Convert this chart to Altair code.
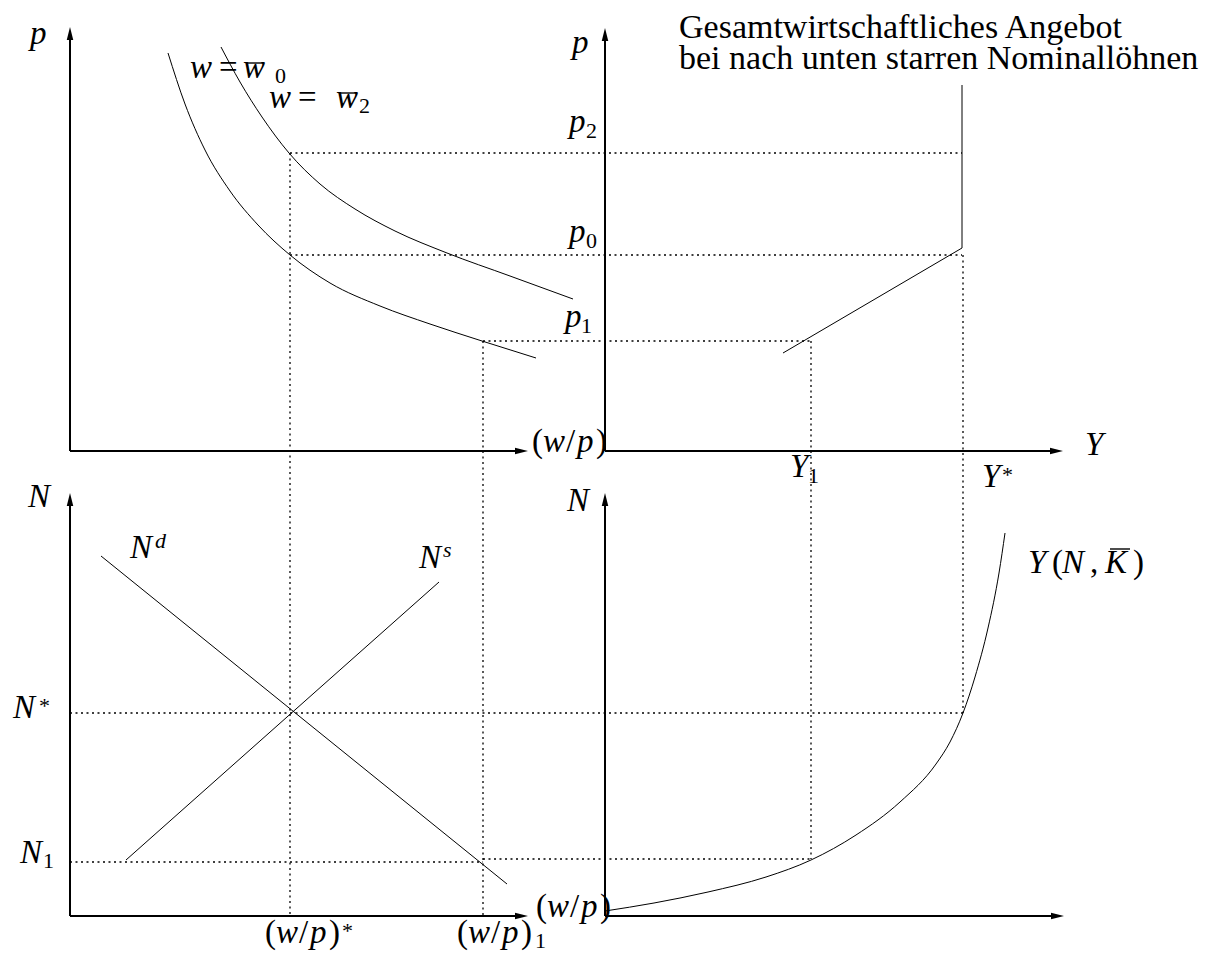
import altair as alt
import pandas as pd

# ---------- geometry (image pixel coordinates) ----------
# axes: origin -> arrow tip
axis_ids = ["tl_y", "tl_x", "tr_y", "tr_x", "bl_y", "bl_x", "br_y", "br_x"]
axis_x0 = [70, 70, 605, 605, 70, 70, 605, 605]
axis_y0 = [451, 451, 451, 451, 916, 916, 916, 916]
axis_x1 = [70, 528, 605, 1063, 70, 528, 605, 1064]
axis_y1 = [27, 451, 28, 451, 493, 916, 493, 916]

# price-real wage curves (top left)
w0_x = [168, 185, 205, 230, 258, 290, 330, 380, 430, 482, 536]
w0_y = [53, 104, 150, 191, 225, 255, 283, 306, 324, 341, 358]
w2_x = [221, 240, 262, 289, 320, 355, 395, 447, 510, 573]
w2_y = [47, 82, 117, 153, 184, 209, 231, 253, 276, 299]

# production function (bottom right)
prod_x = [605, 654, 708, 766, 811, 856, 900, 936, 950, 963, 975, 988, 999, 1005]
prod_y = [911, 903, 892, 877, 860, 835, 802, 764, 742, 713, 677, 628, 573, 533]

# straight lines
as_x = [783, 962, 962]
as_y = [353, 248, 85]
nd_x = [101, 507]
nd_y = [556, 884]
ns_x = [126, 439]
ns_y = [860, 582]

# dotted guide lines: x0, y0, x1, y1
dot_x0 = [290, 290, 483, 290, 483, 811, 963, 70, 70, 483]
dot_y0 = [153, 255, 341, 153, 341, 341, 255, 713, 862, 859]
dot_x1 = [962, 962, 811, 290, 483, 811, 963, 963, 483, 811]
dot_y1 = [153, 255, 341, 916, 916, 859, 713, 713, 862, 859]

# text pieces: text, left x, baseline y, font size, style
lab_text = ["p", "w", "=", "w", "0", "w", "=", "w", "2",
            "p", "p", "2", "p", "0", "p", "1", "Y", "Y", "*", "Y", "1",
            "Gesamtwirtschaftliches Angebot", "bei nach unten starren Nominallöhnen",
            "N", "N", "d", "N", "s", "N", "*", "N", "1",
            "*", "1",
            "N", "Y", "(", "N", ",", "K", ")"]
lab_x = [30, 190, 219, 243, 275, 269, 298, 336, 359,
         572, 569, 586, 569, 586, 565, 581, 1085, 982, 1002, 790, 808,
         679, 679,
         28, 130, 155, 419, 443, 13, 39, 20, 43,
         342, 535,
         567, 1028, 1052, 1062, 1090, 1105, 1133]
lab_y = [44, 78, 78, 78, 83, 108, 108, 108, 113,
         53, 132, 138, 242, 248, 327, 333, 455, 487, 482, 477, 483,
         38, 69,
         507, 558, 548, 568, 557, 718, 713, 863, 868,
         938, 948,
         511, 573, 573, 573, 573, 573, 573]
lab_size = [33, 33, 33, 33, 22, 33, 33, 33, 22,
            33, 33, 22, 33, 22, 33, 22, 33, 33, 22, 33, 22,
            34, 34,
            33, 33, 22, 33, 22, 33, 22, 33, 22,
            22, 22,
            33, 33, 33, 33, 33, 33, 33]
lab_style = ["i", "i", "n", "i", "n", "i", "n", "i", "n",
             "i", "i", "n", "i", "n", "i", "n", "i", "i", "n", "i", "n",
             "n", "n",
             "i", "i", "i", "i", "i", "i", "n", "i", "n",
             "n", "n",
             "i", "i", "n", "i", "n", "i", "n"]

# "(w/p)" labels: left x, baseline
wp_x = [532, 265, 457, 536]
wp_y = [452, 943, 943, 917]
wp_pieces = [("(", 0, "n"), ("w", 11, "i"), ("/", 34, "n"), ("p", 45, "i"), (")", 64, "n")]

# bars (macrons) over w and K: x0, x1, y
bar_x0 = [247, 340, 1110]
bar_x1 = [264, 357, 1130]
bar_y = [63, 93, 549]

# ---------- build tables ----------
def poly(rows, pid, xs, ys):
    for k, (a, b) in enumerate(zip(xs, ys)):
        rows.append({"id": pid, "ord": k, "x": a, "y": b})

ARW = 6.5
axis_rows, arrow_rows = [], []
for i, pid in enumerate(axis_ids):
    x0, y0, x1, y1 = axis_x0[i], axis_y0[i], axis_x1[i], axis_y1[i]
    if x0 == x1:  # vertical, pointing up
        poly(axis_rows, pid, [x0, x1], [y0, y1 + ARW])
        arrow_rows.append({"x": x1, "y": y1 + ARW, "shape": "M0,-1L0.5,1L-0.5,1Z"})
    else:         # horizontal, pointing right
        poly(axis_rows, pid, [x0, x1 - ARW], [y0, y1])
        arrow_rows.append({"x": x1 - ARW, "y": y1, "shape": "M1,0L-1,-0.5L-1,0.5Z"})

smooth_rows = []
poly(smooth_rows, "w0", w0_x, w0_y)
poly(smooth_rows, "w2", w2_x, w2_y)
poly(smooth_rows, "prod", prod_x, prod_y)

straight_rows = []
poly(straight_rows, "as", as_x, as_y)
poly(straight_rows, "nd", nd_x, nd_y)
poly(straight_rows, "ns", ns_x, ns_y)

dot_rows = []
for i in range(len(dot_x0)):
    poly(dot_rows, f"d{i}", [dot_x0[i], dot_x1[i]], [dot_y0[i], dot_y1[i]])

text_rows = [{"text": t, "x": a, "y": b, "size": s, "style": st}
             for t, a, b, s, st in zip(lab_text, lab_x, lab_y, lab_size, lab_style)]
for a, b in zip(wp_x, wp_y):
    for t, off, st in wp_pieces:
        text_rows.append({"text": t, "x": a + off, "y": b, "size": 33, "style": st})

bar_rows = [{"x": a, "x2": c, "y": b} for a, c, b in zip(bar_x0, bar_x1, bar_y)]

W, H = 1205, 944
XS = alt.Scale(domain=[8, 8 + W], nice=False, zero=False)
YS = alt.Scale(domain=[8, 8 + H], nice=False, zero=False, reverse=True)
FONT = "Liberation Serif, Times New Roman, DejaVu Serif, serif"

def xy():
    return dict(x=alt.X("x:Q", scale=XS, axis=None), y=alt.Y("y:Q", scale=YS, axis=None))

dotted = alt.Chart(pd.DataFrame(dot_rows)).mark_line(
    color="black", strokeWidth=1.3, strokeDash=[2, 3.5]
).encode(detail="id:N", order="ord:Q", **xy())

smooth = alt.Chart(pd.DataFrame(smooth_rows)).mark_line(
    color="black", strokeWidth=1, interpolate="monotone"
).encode(detail="id:N", order="ord:Q", **xy())

straight = alt.Chart(pd.DataFrame(straight_rows)).mark_line(
    color="black", strokeWidth=1
).encode(detail="id:N", order="ord:Q", **xy())

axes = alt.Chart(pd.DataFrame(axis_rows)).mark_line(
    color="black", strokeWidth=2
).encode(detail="id:N", order="ord:Q", **xy())

arrows = alt.Chart(pd.DataFrame(arrow_rows)).mark_point(
    filled=True, color="black", opacity=1, size=169, strokeWidth=0
).encode(shape=alt.Shape("shape:N", scale=None, legend=None), **xy())

bars = alt.Chart(pd.DataFrame(bar_rows)).mark_rule(
    color="black", strokeWidth=1.4
).encode(x=alt.X("x:Q", scale=XS, axis=None), x2="x2:Q",
         y=alt.Y("y:Q", scale=YS, axis=None))

tdf = pd.DataFrame(text_rows)
txt_i = alt.Chart(tdf).transform_filter(alt.datum.style == "i").mark_text(
    align="left", baseline="alphabetic", font=FONT,
    fontStyle="italic", color="black"
).encode(text="text:N", size=alt.Size("size:Q", scale=None, legend=None), **xy())

txt_n = alt.Chart(tdf).transform_filter(alt.datum.style == "n").mark_text(
    align="left", baseline="alphabetic", font=FONT,
    fontStyle="normal", color="black"
).encode(text="text:N", size=alt.Size("size:Q", scale=None, legend=None), **xy())

chart = alt.layer(dotted, smooth, straight, axes, arrows, bars, txt_i, txt_n).properties(
    width=W, height=H, padding=0,
    autosize=alt.AutoSizeParams(type="none"),
    background="white",
).configure_view(stroke=None)

chart.save("out.html", embed_options={"renderer": "svg", "actions": False})
